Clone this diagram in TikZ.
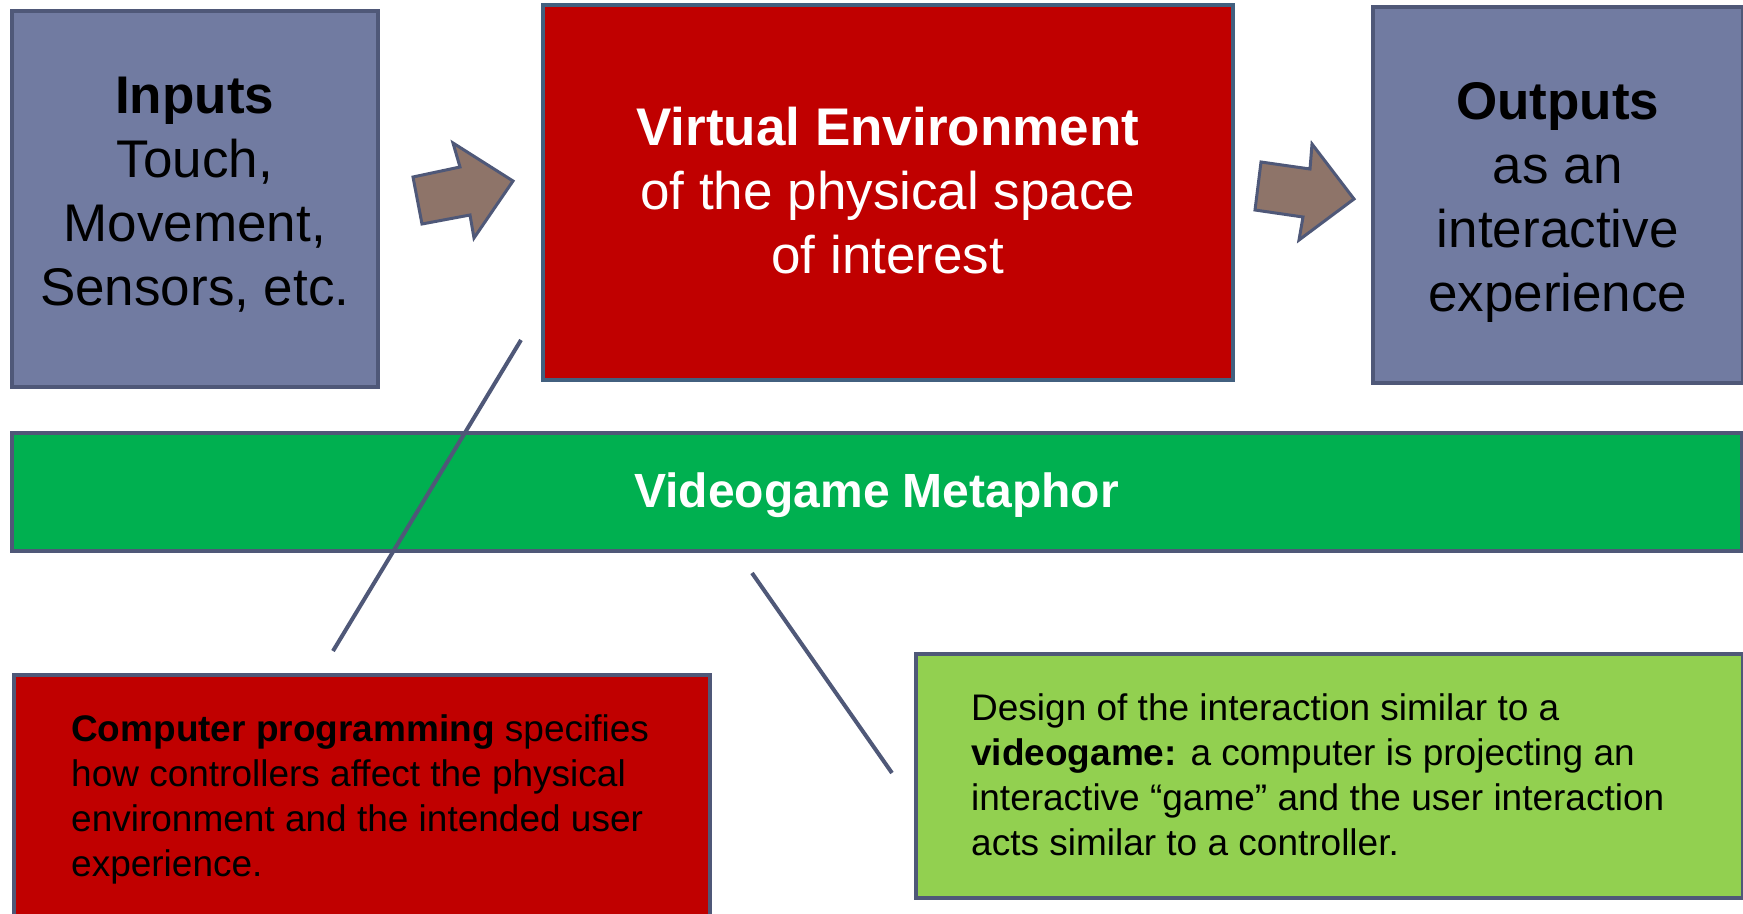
\documentclass[tikz,border=0pt]{standalone}
\usepackage{fontspec}
\setmainfont{Liberation Sans}
\definecolor{slate}{HTML}{4F5878}
\definecolor{vebord}{HTML}{42607F}
\definecolor{bluegray}{HTML}{717BA1}
\definecolor{darkred}{HTML}{C00000}
\definecolor{bargreen}{HTML}{00B050}
\definecolor{lightgreen}{HTML}{92D050}
\definecolor{arrowbrown}{HTML}{8E7469}
\begin{document}
\begin{tikzpicture}[x=1pt,y=-1pt,
  box/.style={draw=slate,line width=3.5pt,inner sep=0pt,anchor=north west},
  bigtext/.style={font=\fontsize{53}{64}\selectfont,align=center,inner sep=0pt},
  bartext/.style={font=\fontsize{48}{58}\selectfont\bfseries,text=white,inner sep=0pt},
  smalltext/.style={font=\fontsize{37}{45}\selectfont,align=left,inner sep=0pt,anchor=north west},
  fatarrow/.style={draw=slate,line width=3pt,fill=arrowbrown,line join=miter},
  connector/.style={draw=slate,line width=4pt}]
\clip (0,0) rectangle (1743,913);
\fill[white] (0,0) rectangle (1743,913);
% top row
\node[box,fill=bluegray,minimum width=366pt,minimum height=376pt] (inputs) at (10,9) {};
\node[bigtext,yshift=4pt] (inputstext) at (inputs.center)
  {\textbf{Inputs}\\Touch,\\Movement,\\Sensors, etc.};
\node[box,draw=vebord,fill=darkred,minimum width=690pt,minimum height=375pt] (ve) at (541,3) {};
\node[bigtext,text=white,yshift=2pt] (vetext) at (ve.center)
  {\textbf{Virtual Environment}\\of the physical space\\of interest};
\node[box,fill=bluegray,minimum width=370pt,minimum height=376pt] (outputs) at (1371,5) {};
\node[bigtext,yshift=-8pt] (outputstext) at (outputs.center)
  {\textbf{Outputs}\\as an\\interactive\\experience};
% block arrows
\draw[fatarrow] (413,177) -- (460,167) -- (453,143) -- (513,181) -- (474,238) -- (470,215) -- (422,224) -- cycle;
\draw[fatarrow] (1261,162) -- (1310,169) -- (1312,144) -- (1354,199) -- (1299,240) -- (1303,217) -- (1255,210) -- cycle;
% metaphor bar
\node[box,fill=bargreen,minimum width=1730pt,minimum height=118pt] (bar) at (10,431) {};
\node[bartext,yshift=-3pt] (bartitle) at (bar.center) {Videogame Metaphor};
% bottom boxes
\node[box,fill=darkred,minimum width=696pt,minimum height=300pt] (prog) at (12,673) {};
\node[smalltext] (progtext) at (71,714)
  {\textbf{Computer programming} specifies\\how controllers affect the physical\\environment and the intended user\\experience.};
\node[box,fill=lightgreen,minimum width=827pt,minimum height=244pt] (design) at (914,652) {};
\node[smalltext] (designtext) at (971,693)
  {Design of the interaction similar to a\\\textbf{videogame:} a computer is projecting an\\interactive “game” and the user interaction\\acts similar to a controller.};
% connectors
\coordinate (l1a) at (521,340);
\coordinate (l1b) at (333,651);
\coordinate (l2a) at (752,573);
\coordinate (l2b) at (892,773);
\draw[connector] (l1a) -- (l1b);
\draw[connector] (l2a) -- (l2b);
\end{tikzpicture}
\end{document}
